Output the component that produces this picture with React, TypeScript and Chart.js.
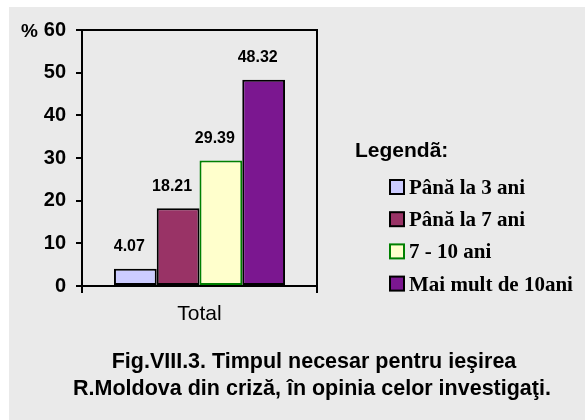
import React, { useEffect, useRef } from 'react';
import { Chart, registerables } from 'chart.js';

Chart.register(...registerables);

const categories = ['Total'];
const seriesLabels = ['Până la 3 ani', 'Până la 7 ani', '7 - 10 ani', 'Mai mult de 10ani'];
const seriesValues = [4.07, 18.21, 29.39, 48.32];
const seriesFill = ['#ccccff', '#993366', '#ffffcc', '#7b1790'];
const seriesBorder = ['#000000', '#000000', '#008000', '#000000'];
const yMin = 0;
const yMax = 60;
const yStep = 10;
const unitLabel = '%';
const legendTitle = 'Legendã:';
const titleLines = [
  'Fig.VIII.3. Timpul necesar pentru ieşirea',
  'R.Moldova din criză, în opinia celor investigaţi.',
];

const SANS = '"Liberation Sans", Arial, sans-serif';
const SERIF = '"Liberation Serif", "Times New Roman", serif';

const decorPlugin = {
  id: 'decor',
  beforeDraw(chart: any) {
    const { ctx, width, height } = chart;
    ctx.save();
    ctx.fillStyle = '#eaeaea';
    ctx.fillRect(9, 7, width - 9, height - 7);
    ctx.restore();
  },
  afterDatasetsDraw(chart: any) {
    const { ctx, chartArea } = chart;
    ctx.save();
    // value labels
    ctx.font = `bold 16px ${SANS}`;
    ctx.fillStyle = '#000';
    ctx.textAlign = 'center';
    ctx.textBaseline = 'middle';
    chart.data.datasets.forEach((ds: any, i: number) => {
      const meta = chart.getDatasetMeta(i);
      meta.data.forEach((el: any, j: number) => {
        const v = ds.data[j];
        ctx.fillText(v.toFixed(2), el.x - 6, el.y - 22);
      });
    });
    // top & right frame
    ctx.strokeStyle = '#000';
    ctx.lineWidth = 2;
    ctx.beginPath();
    ctx.moveTo(chartArea.left, chartArea.top);
    ctx.lineTo(chartArea.right, chartArea.top);
    ctx.lineTo(chartArea.right, chartArea.bottom);
    ctx.stroke();
    ctx.restore();
  },
  afterDraw(chart: any) {
    const { ctx } = chart;
    const yScale = chart.scales.y;
    ctx.save();
    // unit label
    ctx.font = `bold 19px ${SANS}`;
    ctx.fillStyle = '#000';
    ctx.textAlign = 'left';
    ctx.textBaseline = 'middle';
    ctx.fillText(unitLabel, 21, yScale.getPixelForValue(yMax) + 2);

    // legend
    ctx.font = `bold 21px ${SANS}`;
    ctx.textBaseline = 'alphabetic';
    ctx.fillText(legendTitle, 355, 157);
    chart.data.datasets.forEach((ds: any, i: number) => {
      const base = 194 + i * 32.2;
      ctx.fillStyle = ds.backgroundColor;
      ctx.fillRect(390, base - 14, 14, 14);
      ctx.strokeStyle = ds.borderColor;
      ctx.lineWidth = 2;
      ctx.strokeRect(390, base - 14, 14, 14);
      ctx.fillStyle = '#000';
      ctx.font = `bold 21px ${SERIF}`;
      ctx.fillText(ds.label, 409, base);
    });

    // caption
    ctx.font = `bold 21.5px ${SANS}`;
    ctx.textAlign = 'center';
    ctx.fillStyle = '#000';
    ctx.fillText(titleLines[0], 314, 368);
    ctx.fillText(titleLines[1], 312, 395);
    ctx.restore();
  },
};

export default function App() {
  const ref = useRef<HTMLCanvasElement | null>(null);

  useEffect(() => {
    if (!ref.current) return;
    const chart = new Chart(ref.current, {
      type: 'bar',
      data: {
        labels: categories,
        datasets: seriesLabels.map((label, i) => ({
          label,
          data: [seriesValues[i]],
          backgroundColor: seriesFill[i],
          borderColor: seriesBorder[i],
          borderWidth: 2,
          borderSkipped: false,
          categoryPercentage: 0.728,
          barPercentage: 1,
        })),
      },
      options: {
        responsive: false,
        animation: false,
        devicePixelRatio: 1,
        layout: { padding: { left: 0, right: 268, top: 30, bottom: 84 } },
        plugins: {
          legend: { display: false },
          title: { display: false },
          tooltip: { enabled: false },
        },
        scales: {
          x: {
            afterFit: (s: any) => {
              s.height = 50;
            },
            grid: {
              drawOnChartArea: false,
              drawTicks: true,
              tickLength: 7,
              color: '#000',
              lineWidth: 2,
            },
            border: { display: true, color: '#000', width: 2 },
            ticks: {
              color: '#000',
              padding: 9,
              font: { family: SANS, size: 21, weight: 'normal' },
            },
          },
          y: {
            min: yMin,
            max: yMax,
            afterFit: (s: any) => {
              s.width = 82;
            },
            grid: {
              drawOnChartArea: false,
              drawTicks: true,
              tickLength: 6,
              color: '#000',
              lineWidth: 2,
            },
            border: { display: true, color: '#000', width: 2 },
            ticks: {
              stepSize: yStep,
              color: '#000',
              padding: 10,
              font: { family: SANS, size: 20, weight: 'bold' },
            },
          },
        },
      },
      plugins: [decorPlugin],
    });
    return () => chart.destroy();
  }, []);

  return (
    <div style={{ position: 'absolute', left: 0, top: 0, width: 585, height: 420 }}>
      <canvas ref={ref} width={585} height={420} style={{ display: 'block' }} />
    </div>
  );
}
